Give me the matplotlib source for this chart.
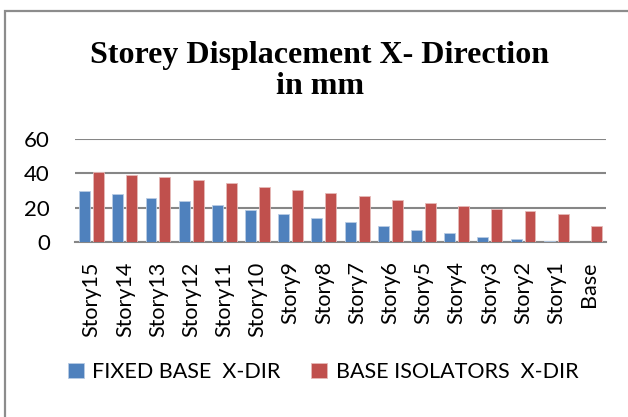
import numpy as np
import matplotlib
matplotlib.use("Agg")
import matplotlib.pyplot as plt
from matplotlib.patches import Rectangle

# values (mm)
storeys = ['Story15', 'Story14', 'Story13', 'Story12', 'Story11', 'Story10', 'Story9', 'Story8',
           'Story7', 'Story6', 'Story5', 'Story4', 'Story3', 'Story2', 'Story1', 'Base']
fixed_base = [29.8, 28.0, 25.9, 23.8, 21.5, 18.9, 16.4, 14.1, 11.8, 9.5, 7.0, 5.0, 3.1, 1.7, 0.7, 0.0]
base_isolators = [40.6, 39.1, 37.7, 36.0, 34.3, 32.1, 30.5, 28.6, 26.7, 24.6, 22.8, 21.1, 19.5, 18.2, 16.4, 9.3]
y_ticks = [0, 20, 40, 60]

plt.rcParams['font.family'] = ['Lato', 'DejaVu Sans']

fig = plt.figure(figsize=(6.28, 4.17), dpi=100)
ax = fig.add_axes([75/628, 1 - 242/417, (606 - 75)/628, (242 - 139)/417])

# outer chart frame (cropped on the right and bottom in the original)
fig.patches.append(Rectangle((5/628, -0.1), 1.2, 1 - 11/417 + 0.1, transform=fig.transFigure,
                             fill=False, edgecolor='#8c8c8c', linewidth=1.6))

x = np.arange(len(storeys))
w = 0.33
ax.bar(x - 0.21, fixed_base, w, color='#4F81BD', edgecolor='#b8cce4', linewidth=0.6,
       label='FIXED BASE  X-DIR', zorder=3)
ax.bar(x + 0.21, base_isolators, w, color='#C0504D', edgecolor='#e6b9b8', linewidth=0.6,
       label='BASE ISOLATORS  X-DIR', zorder=3)

ax.set_xlim(-0.5, len(storeys) - 0.5)
ax.set_ylim(0, 60)
ax.set_yticks(y_ticks)
ax.set_xticks(x)
ax.set_xticklabels(storeys, rotation=90, fontsize=15.5)
ax.tick_params(axis='y', length=0, labelsize=16, pad=18)
ax.tick_params(axis='x', length=0, pad=14)
ax.grid(axis='y', color='#868686', linewidth=1.5, zorder=0)
for s in ['top', 'right', 'left']:
    ax.spines[s].set_visible(False)
ax.spines['bottom'].set_color('#868686')
ax.spines['bottom'].set_linewidth(1.5)

fig.text(320/628, 1 - 71/417, 'Storey Displacement X- Direction\nin mm', ha='center', va='center',
         family='Liberation Serif', fontweight='bold', fontsize=23, linespacing=1.05)

fig.legend(loc='center', bbox_to_anchor=(323/628, 1 - 372/417), ncol=2, frameon=False,
           fontsize=15.5, handlelength=0.75, handleheight=0.75, columnspacing=1.4, handletextpad=0.4)

fig.savefig('out.png', dpi=100)
